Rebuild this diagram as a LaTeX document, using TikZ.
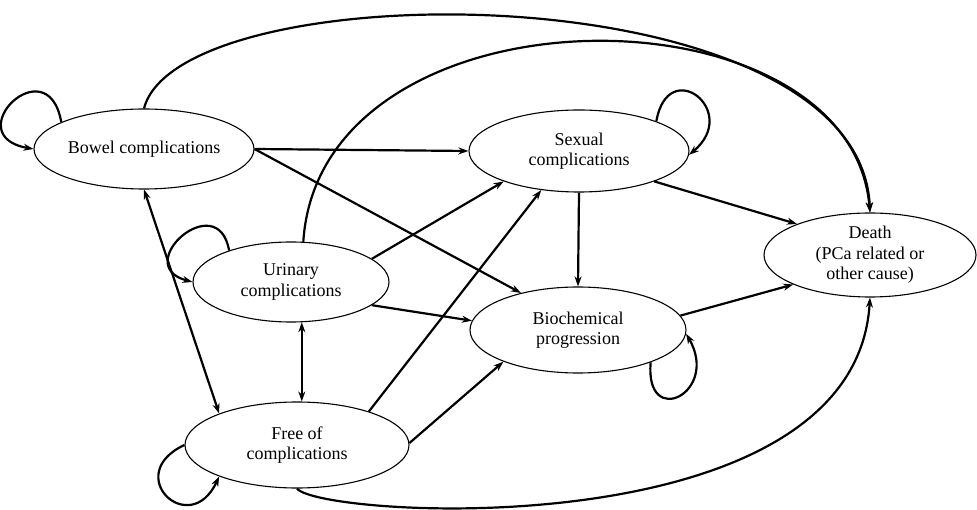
\documentclass[tikz,border=0pt]{standalone}
\usepackage{fontspec}
\setmainfont{Liberation Serif}
\usetikzlibrary{arrows.meta,shapes.geometric}
\tikzset{>={Stealth[length=10pt,width=7pt]},
         state/.style={ellipse, draw, line width=1.1pt, inner sep=0pt, align=center,
                       font=\fontsize{18}{20.5}\selectfont},
         trans/.style={->, line width=2.2pt},
         selfloop/.style={->, line width=2.2pt, distance=#1},
         selfloop/.default=70pt}

\begin{document}
\begin{tikzpicture}[x=1pt, y=1pt]

	\useasboundingbox (0,0) rectangle (977,-510);

	\node[state, minimum width=220pt, minimum height=80pt] (bowel)   at (144,-149) {Bowel complications};
	\node[state, minimum width=196pt, minimum height=80pt] (urinary) at (291,-282) {Urinary\\complications};
	\node[state, minimum width=224pt, minimum height=86pt] (free)    at (297,-445) {Free of\\complications};
	\node[state, minimum width=220pt, minimum height=82pt] (sexual)  at (579,-151) {Sexual\\complications};
	\node[state, minimum width=216pt, minimum height=86pt] (biochem) at (578,-330) {Biochemical\\progression};
	\node[state, minimum width=212pt, minimum height=84pt] (death)   at (870,-255) {Death\\(PCa related or\\other cause)};

	\draw[selfloop=78pt] (bowel.162) to[out=100, in=170] (bowel.180);
	\draw[selfloop=65pt] (urinary.153) to[out=100, in=165] (urinary.west);
	\draw[selfloop=70pt] (free.west) to[out=205, in=245] (free.202);
	\draw[selfloop=68pt] (sexual.21) to[out=80, in=40] (sexual.358);
	\draw[selfloop=68pt] (biochem.336) to[out=265, in=300] (biochem.358);

	\draw[trans] (bowel.east) -- (sexual.west);
	\draw[trans] (bowel.east) -- (biochem.147);
	\draw[trans, <->] (bowel.south) -- (free.158);
	\draw[trans] (bowel.north) .. controls (180,30) and (860,30) .. (death.north);

	\draw[trans] (urinary.16) -- (sexual.202);
	\draw[trans] (urinary.344) -- (biochem.175);
	\draw[trans, <->] (urinary.285) -- (urinary.285 |- free.north);
	\draw[trans] (urinary.73) .. controls (320,20) and (850,20) .. (death.north);

	\draw[trans] (free.25) -- (sexual.226);
	\draw[trans] (free.1) -- (biochem.203);
	\draw[trans] (free.south) .. controls (320,-518) and (855,-550) .. (death.south);

	\draw[trans] (sexual.south) -- (biochem.north);
	\draw[trans] (sexual.338) -- (death.157);
	\draw[trans] (biochem.8) -- (death.201);

\end{tikzpicture}
\end{document}
